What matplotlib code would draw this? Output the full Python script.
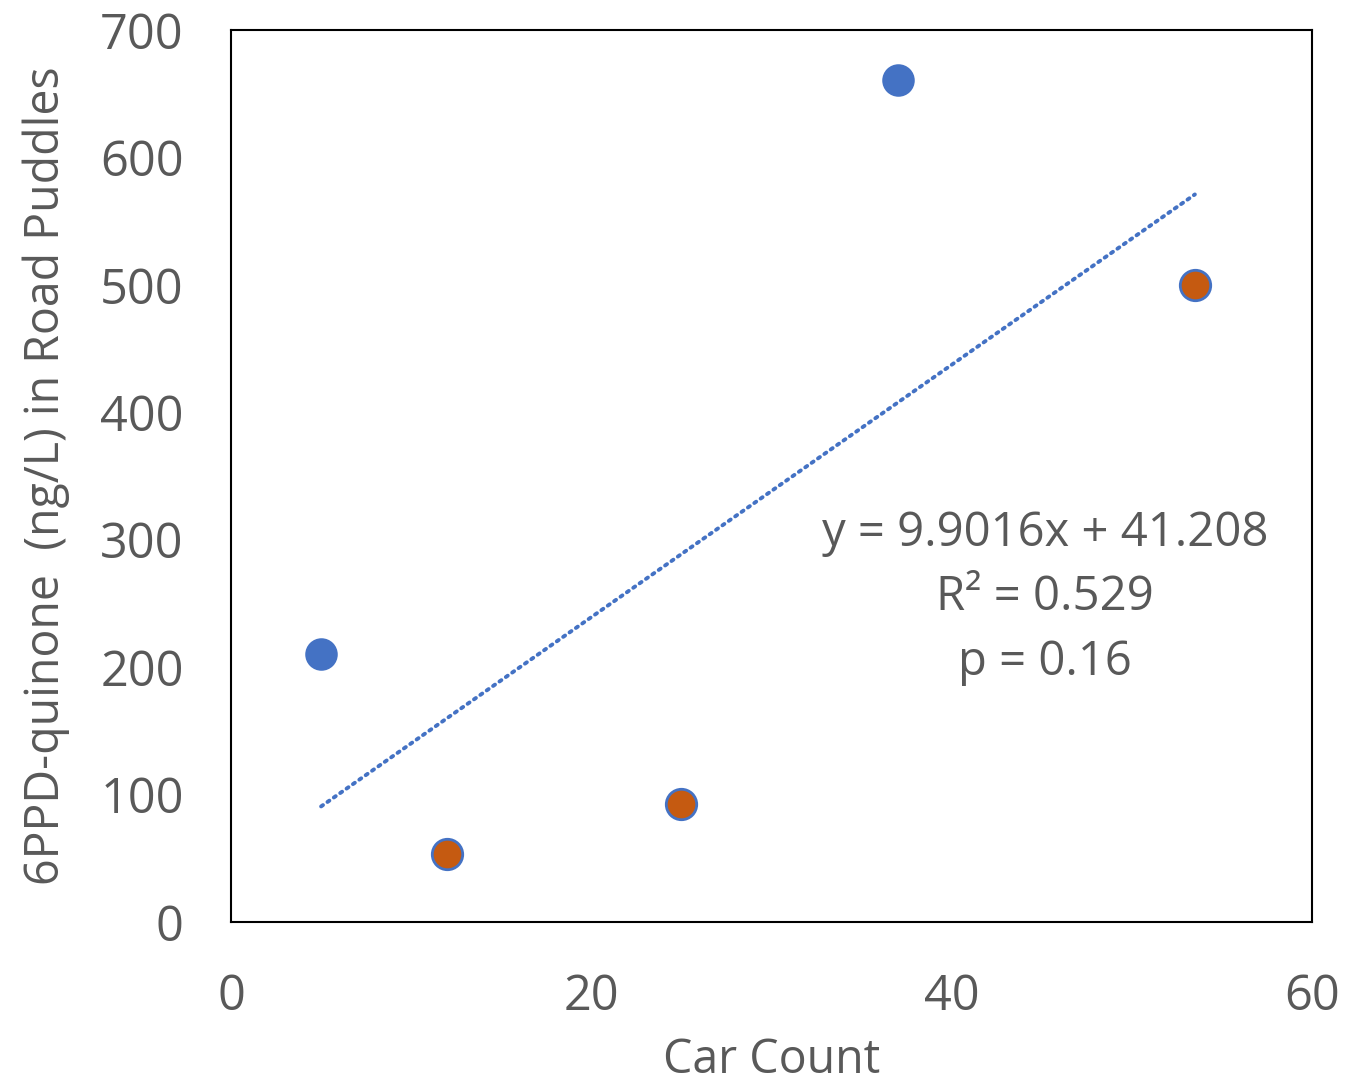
import numpy as np
import matplotlib.pyplot as plt

# Data
blue_x = [5, 37]
blue_y = [210, 661]
orange_x = [12, 25, 53.5]
orange_y = [53, 93, 500]

slope = 9.9016
intercept = 41.208
fit_x = [5, 53.5]
eq_lines = ["y = 9.9016x + 41.208", "R² = 0.529", "p = 0.16"]

xticks = [0, 20, 40, 60]
yticks = [0, 100, 200, 300, 400, 500, 600, 700]

plt.rcParams['font.family'] = ['Open Sans', 'DejaVu Sans']
grey = "#595959"

fig = plt.figure(figsize=(13.47, 10.90), dpi=100)
ax = fig.add_axes([0.1715, 0.1541, 0.8025, 0.8184])

fx = np.array(fit_x)
ax.plot(fx, slope * fx + intercept, color="#4472C4", lw=2.8,
        linestyle=(0, (0.6, 1.4)), dash_capstyle='round', zorder=2)

ax.scatter(blue_x, blue_y, s=480, color="#4472C4", edgecolor="#4472C4",
           linewidth=1.5, zorder=3)
ax.scatter(orange_x, orange_y, s=480, color="#C55A11", edgecolor="#4472C4",
           linewidth=2, zorder=3)

for i, line in enumerate(eq_lines):
    ax.text(45.2, 305 - i * 50.5, line, ha='center', va='center',
            fontsize=34, color=grey)

ax.set_xlim(0, 60)
ax.set_ylim(0, 700)
ax.set_xticks(xticks)
ax.set_yticks(yticks)
ax.tick_params(axis='y', length=0, labelsize=35, labelcolor=grey, pad=34)
ax.tick_params(axis='x', length=0, labelsize=35, labelcolor=grey, pad=36)
for sp in ax.spines.values():
    sp.set_color("black")
    sp.set_linewidth(1.5)

ax.set_xlabel("Car Count", fontsize=33.5, color=grey, labelpad=11)
ax.set_ylabel("6PPD-quinone  (ng/L) in Road Puddles", fontsize=33.5,
              color=grey, labelpad=22)

fig.savefig("out.png", dpi=100)
